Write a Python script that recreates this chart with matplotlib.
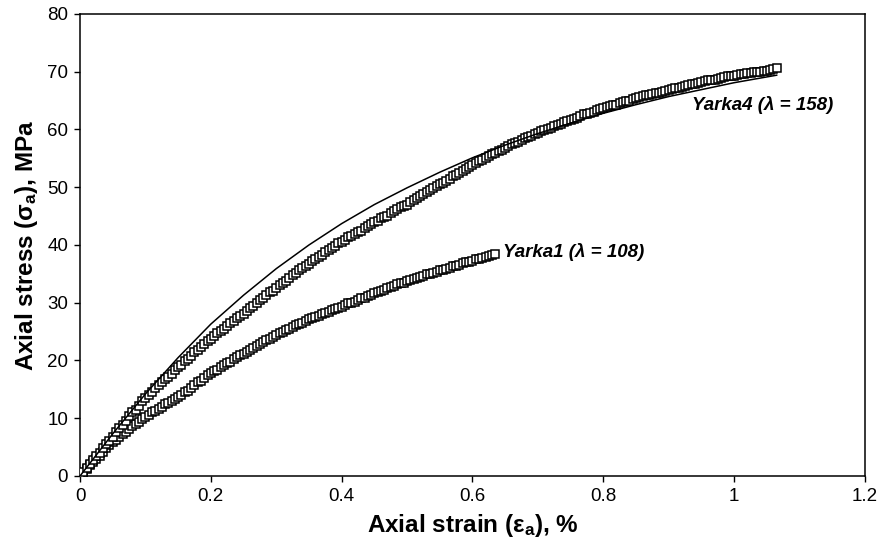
import matplotlib
matplotlib.use("Agg")
import matplotlib.pyplot as plt

plt.rcParams["font.family"] = ["Liberation Sans", "DejaVu Sans"]
plt.rcParams["mathtext.fontset"] = "custom"
plt.rcParams["mathtext.rm"] = "Liberation Sans"
plt.rcParams["mathtext.bf"] = "Liberation Sans:bold"
plt.rcParams["mathtext.it"] = "Liberation Sans:italic"

# Yarka4 test record: axial strain (%) and axial stress (MPa)
yarka4_strain = [
    0.000, 0.005, 0.010, 0.015, 0.020, 0.025, 0.030, 0.035, 0.040, 0.045,
    0.050, 0.055, 0.060, 0.065, 0.070, 0.075, 0.080, 0.085, 0.090, 0.095,
    0.100, 0.105, 0.110, 0.115, 0.120, 0.125, 0.130, 0.135, 0.140, 0.145,
    0.150, 0.155, 0.160, 0.165, 0.170, 0.175, 0.180, 0.185, 0.190, 0.195,
    0.200, 0.205, 0.210, 0.215, 0.220, 0.225, 0.230, 0.235, 0.240, 0.245,
    0.250, 0.255, 0.260, 0.265, 0.270, 0.275, 0.280, 0.285, 0.290, 0.295,
    0.300, 0.305, 0.310, 0.315, 0.320, 0.325, 0.330, 0.335, 0.340, 0.345,
    0.350, 0.355, 0.360, 0.365, 0.370, 0.375, 0.380, 0.385, 0.390, 0.395,
    0.400, 0.405, 0.410, 0.415, 0.420, 0.425, 0.430, 0.435, 0.440, 0.445,
    0.450, 0.455, 0.460, 0.465, 0.470, 0.475, 0.480, 0.485, 0.490, 0.495,
    0.500, 0.505, 0.510, 0.515, 0.520, 0.525, 0.530, 0.535, 0.540, 0.545,
    0.550, 0.555, 0.560, 0.565, 0.570, 0.575, 0.580, 0.585, 0.590, 0.595,
    0.600, 0.605, 0.610, 0.615, 0.620, 0.625, 0.630, 0.635, 0.640, 0.645,
    0.650, 0.655, 0.660, 0.665, 0.670, 0.675, 0.680, 0.685, 0.690, 0.695,
    0.700, 0.705, 0.710, 0.715, 0.720, 0.725, 0.730, 0.735, 0.740, 0.745,
    0.750, 0.755, 0.760, 0.765, 0.770, 0.775, 0.780, 0.785, 0.790, 0.795,
    0.800, 0.805, 0.810, 0.815, 0.820, 0.825, 0.830, 0.835, 0.840, 0.845,
    0.850, 0.855, 0.860, 0.865, 0.870, 0.875, 0.880, 0.885, 0.890, 0.895,
    0.900, 0.905, 0.910, 0.915, 0.920, 0.925, 0.930, 0.935, 0.940, 0.945,
    0.950, 0.955, 0.960, 0.965, 0.970, 0.975, 0.980, 0.985, 0.990, 0.995,
    1.000, 1.005, 1.010, 1.015, 1.020, 1.025, 1.030, 1.035, 1.040, 1.045,
    1.050, 1.055, 1.060, 1.065,
]
yarka4_stress = [
    0.0, 0.7, 1.3, 2.1, 2.8, 3.4, 4.0, 4.9, 5.6, 6.1,
    6.8, 7.6, 8.3, 8.9, 9.6, 10.4, 11.0, 11.5, 12.2, 12.9,
    13.5, 14.0, 14.6, 15.2, 15.7, 16.3, 16.8, 17.2, 17.7, 18.3,
    18.8, 19.3, 19.9, 20.3, 20.8, 21.4, 21.9, 22.3, 22.8, 23.4,
    23.8, 24.2, 24.7, 25.1, 25.5, 26.0, 26.5, 26.8, 27.3, 27.7,
    28.1, 28.6, 29.1, 29.4, 29.9, 30.4, 30.8, 31.3, 31.8, 32.1,
    32.6, 33.1, 33.5, 33.8, 34.2, 34.8, 35.2, 35.6, 36.0, 36.3,
    36.7, 37.2, 37.6, 37.9, 38.3, 38.8, 39.2, 39.5, 39.9, 40.3,
    40.6, 40.9, 41.3, 41.6, 41.9, 42.2, 42.5, 42.9, 43.3, 43.6,
    43.9, 44.2, 44.6, 44.8, 45.1, 45.5, 45.8, 46.2, 46.5, 46.7,
    47.0, 47.4, 47.8, 48.1, 48.4, 48.8, 49.2, 49.5, 49.8, 50.2,
    50.5, 50.8, 51.1, 51.5, 51.9, 52.2, 52.5, 52.8, 53.1, 53.5,
    53.8, 54.2, 54.5, 54.7, 55.0, 55.4, 55.7, 55.9, 56.2, 56.5,
    56.8, 57.1, 57.4, 57.6, 57.8, 58.2, 58.5, 58.7, 58.9, 59.2,
    59.4, 59.7, 59.9, 60.0, 60.2, 60.6, 60.8, 61.0, 61.3, 61.5,
    61.7, 61.8, 62.0, 62.3, 62.6, 62.7, 62.9, 63.1, 63.3, 63.5,
    63.7, 63.9, 64.1, 64.2, 64.3, 64.6, 64.8, 64.9, 65.0, 65.2,
    65.4, 65.6, 65.8, 65.9, 66.0, 66.2, 66.3, 66.4, 66.5, 66.7,
    66.8, 67.0, 67.2, 67.2, 67.3, 67.5, 67.7, 67.8, 67.9, 68.0,
    68.2, 68.4, 68.5, 68.5, 68.6, 68.8, 68.9, 69.1, 69.2, 69.2,
    69.3, 69.5, 69.6, 69.6, 69.7, 69.8, 69.9, 70.0, 70.0, 70.1,
    70.2, 70.3, 70.5, 70.6,
]

# Yarka1 test record
yarka1_strain = [
    0.000, 0.005, 0.010, 0.015, 0.020, 0.025, 0.030, 0.035, 0.040, 0.045,
    0.050, 0.055, 0.060, 0.065, 0.070, 0.075, 0.080, 0.085, 0.090, 0.095,
    0.100, 0.105, 0.110, 0.115, 0.120, 0.125, 0.130, 0.135, 0.140, 0.145,
    0.150, 0.155, 0.160, 0.165, 0.170, 0.175, 0.180, 0.185, 0.190, 0.195,
    0.200, 0.205, 0.210, 0.215, 0.220, 0.225, 0.230, 0.235, 0.240, 0.245,
    0.250, 0.255, 0.260, 0.265, 0.270, 0.275, 0.280, 0.285, 0.290, 0.295,
    0.300, 0.305, 0.310, 0.315, 0.320, 0.325, 0.330, 0.335, 0.340, 0.345,
    0.350, 0.355, 0.360, 0.365, 0.370, 0.375, 0.380, 0.385, 0.390, 0.395,
    0.400, 0.405, 0.410, 0.415, 0.420, 0.425, 0.430, 0.435, 0.440, 0.445,
    0.450, 0.455, 0.460, 0.465, 0.470, 0.475, 0.480, 0.485, 0.490, 0.495,
    0.500, 0.505, 0.510, 0.515, 0.520, 0.525, 0.530, 0.535, 0.540, 0.545,
    0.550, 0.555, 0.560, 0.565, 0.570, 0.575, 0.580, 0.585, 0.590, 0.595,
    0.600, 0.605, 0.610, 0.615, 0.620, 0.625, 0.630, 0.635,
]
yarka1_stress = [
    0.0, 0.6, 1.2, 1.9, 2.5, 3.0, 3.5, 4.2, 4.8, 5.3,
    5.8, 6.3, 6.8, 7.2, 7.6, 8.1, 8.6, 9.0, 9.4, 9.8,
    10.2, 10.6, 11.0, 11.3, 11.6, 12.0, 12.4, 12.7, 13.0, 13.4,
    13.7, 14.1, 14.5, 14.8, 15.2, 15.7, 16.2, 16.5, 16.9, 17.4,
    17.8, 18.1, 18.4, 18.8, 19.2, 19.5, 19.8, 20.2, 20.6, 20.9,
    21.2, 21.5, 21.9, 22.2, 22.5, 22.9, 23.2, 23.5, 23.8, 24.1,
    24.4, 24.7, 25.0, 25.2, 25.5, 25.8, 26.1, 26.3, 26.5, 26.8,
    27.1, 27.3, 27.5, 27.7, 28.0, 28.2, 28.4, 28.7, 29.0, 29.1,
    29.3, 29.6, 29.9, 30.0, 30.2, 30.5, 30.8, 30.9, 31.1, 31.4,
    31.6, 31.8, 32.0, 32.2, 32.5, 32.7, 32.9, 33.2, 33.4, 33.5,
    33.7, 33.9, 34.1, 34.2, 34.4, 34.7, 34.9, 35.0, 35.1, 35.4,
    35.6, 35.7, 35.9, 36.1, 36.3, 36.4, 36.6, 36.8, 37.0, 37.1,
    37.3, 37.5, 37.6, 37.7, 37.9, 38.1, 38.2, 38.5,
]

# Model curve for Yarka4
model_strain = [
    0.0, 0.05, 0.10, 0.15, 0.20, 0.25, 0.30, 0.35, 0.40, 0.45, 0.50,
    0.55, 0.60, 0.65, 0.70, 0.75, 0.80, 0.85, 0.90, 0.95, 1.00, 1.065,
]
model_stress = [
    0.0, 7.3, 14.2, 20.5, 26.3, 31.3, 35.9, 40.0, 43.7, 47.0, 49.9,
    52.6, 55.1, 57.3, 59.3, 61.1, 62.8, 64.3, 65.7, 66.9, 68.1, 69.4,
]

x_ticks = [0, 0.2, 0.4, 0.6, 0.8, 1, 1.2]
x_tick_labels = ["0", "0.2", "0.4", "0.6", "0.8", "1", "1.2"]
y_ticks = [0, 10, 20, 30, 40, 50, 60, 70, 80]

fig = plt.figure(figsize=(8.84, 5.52), dpi=100)
ax = fig.add_axes([0.0905, 0.1377, 0.888, 0.837])

marker_style = dict(
    linestyle="none", marker="s", markersize=5.3,
    markerfacecolor="white", markeredgecolor="black", markeredgewidth=1.1,
)
ax.plot(yarka1_strain, yarka1_stress, **marker_style, zorder=3)
ax.plot(yarka4_strain, yarka4_stress, **marker_style, zorder=3)
ax.plot(model_strain, model_stress, color="black", linewidth=1.1, zorder=4)

label_style = dict(fontsize=13.5, fontweight="bold", fontstyle="italic",
                   ha="left", va="center")
ax.text(0.935, 64.2, "Yarka4 (λ = 158)", **label_style)
ax.text(0.647, 38.8, "Yarka1 (λ = 108)", **label_style)

ax.set_xlim(0, 1.2)
ax.set_ylim(0, 80)
ax.set_xticks(x_ticks)
ax.set_xticklabels(x_tick_labels)
ax.set_yticks(y_ticks)
ax.tick_params(direction="out", length=4.5, width=1.0, labelsize=13.5, pad=4)
for spine in ax.spines.values():
    spine.set_linewidth(1.1)

ax.set_xlabel(r"Axial strain (ε$_\mathbf{a}$), %", fontsize=17.5, fontweight="bold", labelpad=5)
ax.set_ylabel(r"Axial stress (σ$_\mathbf{a}$), MPa", fontsize=17.5, fontweight="bold", labelpad=5)

fig.savefig("out.png", dpi=100)
